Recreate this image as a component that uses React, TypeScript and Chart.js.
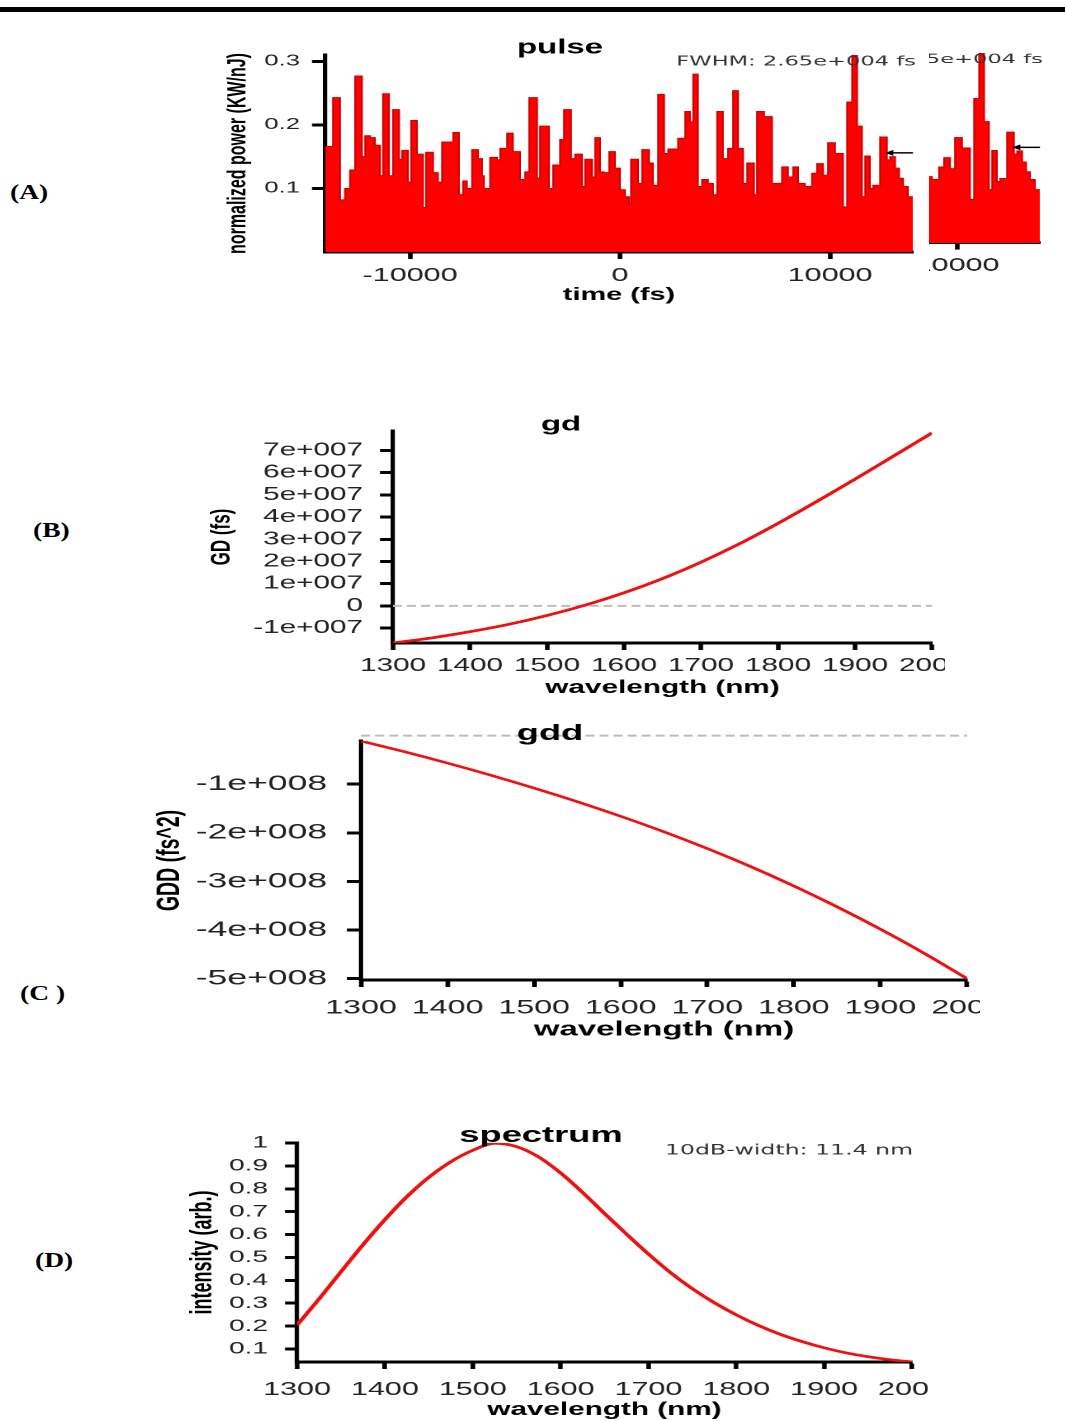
import React, { useEffect, useRef } from 'react';
import { Chart, registerables } from 'chart.js';

Chart.register(...registerables);

// horizontal stretch of the original figure
const S = 1.65;
const FONT = "'Liberation Sans', Arial, Helvetica, sans-serif";
const NOTE_FONT = "'DejaVu Sans', Verdana, sans-serif";
const RED = '#ee1111';
const TICK_COLOR = '#222';

// ---------------- (A) pulse ----------------
const PULSE_TIME_FS = [
  -14050, -13670, -13330, -13100, -12860, -12620, -12290, -12140, -11900, -11670,
  -11430, -11290, -11000, -10810, -10520, -10380, -10100, -9950, -9670, -9380,
  -9240, -8900, -8670, -8480, -7950, -7670, -7480, -7290, -7050, -6760,
  -6570, -6480, -6190, -5860, -5710, -5380, -5100, -4760, -4520, -4330,
  -3950, -3810, -3380, -3190, -2860, -2670, -2330, -2140, -1810, -1670,
  -1330, -1190, -950, -760, -520, -240, 0, 240, 430, 520,
  860, 1050, 1380, 1570, 1810, 2100, 2290, 2760, 3100, 3330,
  3480, 3710, 3900, 4190, 4430, 4620, 4900, 5140, 5380, 5620,
  5860, 6050, 6380, 6520, 6860, 7240, 7710, 8000, 8240, 8480,
  8810, 9140, 9380, 9670, 9900, 10240, 10620, 10810, 11050, 11290,
  11520, 11670, 11900, 12050, 12380, 12710, 12860, 13100, 13290, 13480,
  13710, 13950,
];
const PULSE_POWER = [
  0.166, 0.243, 0.082, 0.1, 0.129, 0.277, 0.15, 0.183, 0.18, 0.168,
  0.12, 0.249, 0.12, 0.224, 0.146, 0.16, 0.11, 0.207, 0.154, 0.07,
  0.157, 0.125, 0.11, 0.173, 0.188, 0.09, 0.112, 0.1, 0.161, 0.147,
  0.12, 0.1, 0.149, 0.145, 0.163, 0.187, 0.158, 0.114, 0.126, 0.243,
  0.116, 0.198, 0.1, 0.137, 0.177, 0.224, 0.147, 0.154, 0.103, 0.146,
  0.118, 0.18, 0.126, 0.125, 0.158, 0.132, 0.098, 0.087, 0.076, 0.146,
  0.108, 0.161, 0.14, 0.105, 0.248, 0.155, 0.162, 0.179, 0.221, 0.205,
  0.28, 0.103, 0.114, 0.108, 0.09, 0.221, 0.147, 0.163, 0.254, 0.163,
  0.108, 0.14, 0.09, 0.221, 0.213, 0.108, 0.134, 0.118, 0.134, 0.108,
  0.103, 0.124, 0.139, 0.121, 0.172, 0.155, 0.071, 0.236, 0.31, 0.198,
  0.087, 0.151, 0.1, 0.105, 0.181, 0.145, 0.15, 0.132, 0.116, 0.103,
  0.087, 0.087,
];
const PULSE_X_RANGE = [-14050, 13950];
const PULSE_Y_RANGE = [0, 0.31];
const PULSE_X_TICKS = [-10000, 0, 10000];
const PULSE_X_TICK_LABELS = ['-10000', '0', '10000'];
const PULSE_Y_TICKS = [0.1, 0.2, 0.3];
const PULSE_Y_TICK_LABELS = ['0.1', '0.2', '0.3'];
const FWHM_LABEL = 'FWHM: 2.65e+004 fs';
const FWHM_ARROW = { from: 13950, to: 12620, level: 0.156 };

// ---------------- (B) gd / (C) gdd ----------------
const WAVELENGTH_NM = [1300, 1350, 1400, 1450, 1500, 1550, 1600, 1650, 1700, 1750, 1800, 1850, 1900, 1950, 2000];
const GD_FS = [-1.67e7, -1.44e7, -1.16e7, -0.83e7, -0.43e7, 0.04e7, 0.59e7, 1.23e7, 1.97e7, 2.8e7, 3.72e7, 4.7e7, 5.71e7, 6.75e7, 7.79e7];
const GD_Y_RANGE = [-1.67e7, 7.88e7];
const GD_Y_TICKS = [-1e7, 0, 1e7, 2e7, 3e7, 4e7, 5e7, 6e7, 7e7];
const GD_Y_TICK_LABELS = ['-1e+007', '0', '1e+007', '2e+007', '3e+007', '4e+007', '5e+007', '6e+007', '7e+007'];

const GDD_FS2 = [-0.11e8, -0.33e8, -0.565e8, -0.815e8, -1.08e8, -1.36e8, -1.66e8, -1.98e8, -2.325e8, -2.695e8, -3.095e8, -3.525e8, -3.985e8, -4.475e8, -5.0e8];
const GDD_Y_RANGE = [-5.03e8, -0.11e8];
const GDD_Y_TICKS = [-5e8, -4e8, -3e8, -2e8, -1e8];
const GDD_Y_TICK_LABELS = ['-5e+008', '-4e+008', '-3e+008', '-2e+008', '-1e+008'];

// ---------------- (D) spectrum ----------------
const SPECTRUM_NM = [1300, 1325, 1350, 1375, 1400, 1425, 1450, 1475, 1500, 1525, 1550, 1575, 1600, 1625, 1650, 1675, 1700, 1725, 1750, 1775, 1800, 1825, 1850, 1875, 1900, 1925, 1950, 1975, 2000];
const SPECTRUM_INTENSITY = [0.204, 0.318, 0.437, 0.555, 0.665, 0.765, 0.85, 0.918, 0.968, 0.999, 0.984, 0.939, 0.869, 0.784, 0.692, 0.602, 0.515, 0.434, 0.363, 0.302, 0.249, 0.203, 0.164, 0.132, 0.105, 0.083, 0.066, 0.053, 0.043];
const SPECTRUM_Y_RANGE = [0.043, 1.0];
const SPECTRUM_Y_TICKS = [0.1, 0.2, 0.3, 0.4, 0.5, 0.6, 0.7, 0.8, 0.9, 1.0];
const SPECTRUM_Y_TICK_LABELS = ['0.1', '0.2', '0.3', '0.4', '0.5', '0.6', '0.7', '0.8', '0.9', '1'];
const SPECTRUM_LABEL = '10dB-width: 11.4 nm';

const WL_RANGE = [1300, 2000];
const WL_TICKS = [1300, 1400, 1500, 1600, 1700, 1800, 1900, 2000];
const WL_TICK_LABELS = ['1300', '1400', '1500', '1600', '1700', '1800', '1900', '2000'];

// ---------------- layout (page px) ----------------
type Layout = { L: number; T: number; areaL: number; areaR: number; areaT: number; areaB: number; xAxisH: number; padB: number };
type Clip = { x: number; y: number; w: number; h: number };

const PULSE_LAYOUT: Layout = { L: 200, T: 30, areaL: 325, areaR: 913, areaT: 55, areaB: 252, xAxisH: 60, padB: 5 };
const GD_LAYOUT: Layout = { L: 200, T: 400, areaL: 393, areaR: 932, areaT: 431, areaB: 643, xAxisH: 60, padB: 5 };
const GDD_LAYOUT: Layout = { L: 150, T: 712, areaL: 361, areaR: 967, areaT: 741, areaB: 980, xAxisH: 62, padB: 5 };
const SPEC_LAYOUT: Layout = { L: 180, T: 1112, areaL: 297, areaR: 912, areaT: 1143, areaB: 1362, xAxisH: 59, padB: 0 };

function dims(lay: Layout) {
  const Wy = (lay.areaL - lay.L) / S;
  const rightInt = (lay.areaR - lay.L) / S;
  const W = Math.ceil(rightInt + 40);
  const pr = W - rightInt;
  const pt = lay.areaT - lay.T;
  const H = Math.ceil(lay.areaB - lay.T + lay.xAxisH + lay.padB);
  const pb = H - (lay.areaB - lay.T + lay.xAxisH);
  return { Wy, W, pr, pt, H, pb };
}

type AxisSpec = {
  min: number; max: number; ticks: number[]; labels: string[];
  font: number; tickLenPage: number; labelPos: number;
  title: string; titleSize: number; titlePos: number;
};

function yScale(lay: Layout, a: AxisSpec) {
  const d = dims(lay);
  const tl = a.tickLenPage / S;
  const pad = Math.max(0, (lay.areaL - a.labelPos) / S - tl);
  const lh = a.titleSize * 1.2;
  return {
    type: 'linear', position: 'left', min: a.min, max: a.max,
    afterFit: (s: any) => { s.width = d.Wy; },
    afterBuildTicks: (s: any) => { s.ticks = a.ticks.map((v) => ({ value: v })); },
    ticks: {
      autoSkip: false, padding: pad, color: TICK_COLOR,
      font: { family: FONT, size: a.font },
      callback: (_v: any, i: number) => a.labels[i],
    },
    grid: { drawOnChartArea: false, drawTicks: true, tickLength: tl, tickWidth: 3, tickColor: '#000' },
    border: { display: true, color: '#000', width: 2.6 },
    title: {
      display: true, text: a.title, color: '#000',
      font: { family: FONT, size: a.titleSize, weight: 'bold' },
      padding: { top: Math.max(0, (a.titlePos - lay.L) / S - lh / 2), bottom: 0 },
    },
  };
}

function xScale(lay: Layout, a: AxisSpec) {
  const tl = a.tickLenPage;
  const pad = Math.max(0, a.labelPos - lay.areaB - tl - a.font * 0.6);
  const lh = a.titleSize * 1.2;
  return {
    type: 'linear', position: 'bottom', min: a.min, max: a.max,
    afterFit: (s: any) => { s.height = lay.xAxisH; },
    afterBuildTicks: (s: any) => { s.ticks = a.ticks.map((v) => ({ value: v })); },
    ticks: {
      autoSkip: false, maxRotation: 0, minRotation: 0, padding: pad, color: TICK_COLOR,
      font: { family: FONT, size: a.font },
      callback: (_v: any, i: number) => a.labels[i],
    },
    grid: { drawOnChartArea: false, drawTicks: true, tickLength: tl, tickWidth: 2.8, tickColor: '#000' },
    border: { display: true, color: '#000', width: 3 },
    title: {
      display: true, text: a.title, color: '#000',
      font: { family: FONT, size: a.titleSize, weight: 'bold' },
      padding: { top: 0, bottom: Math.max(0, lay.areaB + lay.xAxisH - a.titlePos - lh / 2) },
    },
  };
}

type TextItem = { text: string; x: number; y: number; size: number; bold?: boolean; align?: CanvasTextAlign; color?: string; family?: string };
type AnnotSpec = { texts: TextItem[]; zero?: number; arrow?: { from: number; to: number; level: number } };

function annotPlugin(lay: Layout, spec: AnnotSpec) {
  return {
    id: 'panelAnnot',
    beforeDatasetsDraw(chart: any) {
      if (spec.zero === undefined) return;
      const { ctx, chartArea } = chart;
      const y = chart.scales.y.getPixelForValue(spec.zero);
      ctx.save();
      ctx.strokeStyle = '#bdbdbd';
      ctx.lineWidth = 2;
      ctx.setLineDash([5.5, 3]);
      ctx.beginPath();
      ctx.moveTo(chartArea.left, y);
      ctx.lineTo(chartArea.right, y);
      ctx.stroke();
      ctx.restore();
    },
    afterDraw(chart: any) {
      const { ctx } = chart;
      if (spec.arrow) {
        const xs = chart.scales.x;
        const ys = chart.scales.y;
        const x1 = xs.getPixelForValue(spec.arrow.from);
        const x2 = xs.getPixelForValue(spec.arrow.to);
        const y = ys.getPixelForValue(spec.arrow.level);
        ctx.save();
        ctx.strokeStyle = '#000';
        ctx.fillStyle = '#000';
        ctx.lineWidth = 1.5;
        ctx.beginPath();
        ctx.moveTo(x1, y);
        ctx.lineTo(x2 + 3, y);
        ctx.stroke();
        ctx.beginPath();
        ctx.moveTo(x2, y);
        ctx.lineTo(x2 + 5, y - 3);
        ctx.lineTo(x2 + 5, y + 3);
        ctx.closePath();
        ctx.fill();
        ctx.restore();
      }
      for (const t of spec.texts) {
        ctx.save();
        ctx.font = `${t.bold ? 'bold ' : ''}${t.size}px ${t.family || FONT}`;
        ctx.fillStyle = t.color || '#000';
        ctx.textAlign = t.align || 'center';
        ctx.textBaseline = 'middle';
        ctx.fillText(t.text, (t.x - lay.L) / S, t.y - lay.T);
        ctx.restore();
      }
    },
  };
}

function baseOptions(lay: Layout) {
  const d = dims(lay);
  return {
    responsive: false,
    animation: false,
    devicePixelRatio: 2,
    events: [],
    layout: { padding: { left: 0, top: d.pt, right: d.pr, bottom: d.pb } },
    plugins: { legend: { display: false }, tooltip: { enabled: false }, title: { display: false } },
  };
}

function pulseConfig(lay: Layout) {
  return {
    type: 'line',
    data: {
      datasets: [{
        data: PULSE_TIME_FS.map((t, i) => ({ x: t, y: PULSE_POWER[i] })),
        stepped: 'before',
        fill: 'origin',
        backgroundColor: '#ff0000',
        borderColor: '#cc0000',
        borderWidth: 1,
        pointRadius: 0,
      }],
    },
    options: {
      ...baseOptions(lay),
      scales: {
        x: xScale(lay, {
          min: PULSE_X_RANGE[0], max: PULSE_X_RANGE[1], ticks: PULSE_X_TICKS, labels: PULSE_X_TICK_LABELS,
          font: 18.5, tickLenPage: 7, labelPos: 276, title: 'time (fs)', titleSize: 17.5, titlePos: 295,
        }),
        y: yScale(lay, {
          min: PULSE_Y_RANGE[0], max: PULSE_Y_RANGE[1], ticks: PULSE_Y_TICKS, labels: PULSE_Y_TICK_LABELS,
          font: 15.5, tickLenPage: 13, labelPos: 300, title: 'normalized power (KW/nJ)', titleSize: 16, titlePos: 238,
        }),
      },
    },
    plugins: [annotPlugin(lay, {
      texts: [
        { text: 'pulse', x: 560, y: 48, size: 20, bold: true },
        { text: FWHM_LABEL, x: 916, y: 62, size: 13.7, align: 'right', color: '#333', family: NOTE_FONT },
      ],
      arrow: FWHM_ARROW,
    })],
  };
}

function curveConfig(lay: Layout, xs: number[], ys: number[], yAxis: AxisSpec, xAxis: AxisSpec, annot: AnnotSpec, width: number) {
  return {
    type: 'line',
    data: {
      datasets: [{
        data: xs.map((x, i) => ({ x, y: ys[i] })),
        borderColor: RED,
        borderWidth: width,
        pointRadius: 0,
        fill: false,
        cubicInterpolationMode: 'monotone',
      }],
    },
    options: {
      ...baseOptions(lay),
      scales: { x: xScale(lay, xAxis), y: yScale(lay, yAxis) },
    },
    plugins: [annotPlugin(lay, annot)],
  };
}

function gdConfig(lay: Layout) {
  return curveConfig(lay, WAVELENGTH_NM, GD_FS,
    { min: GD_Y_RANGE[0], max: GD_Y_RANGE[1], ticks: GD_Y_TICKS, labels: GD_Y_TICK_LABELS, font: 18, tickLenPage: 13, labelPos: 363, title: 'GD (fs)', titleSize: 17, titlePos: 222 },
    { min: WL_RANGE[0], max: WL_RANGE[1], ticks: WL_TICKS, labels: WL_TICK_LABELS, font: 18, tickLenPage: 7, labelPos: 666, title: 'wavelength (nm)', titleSize: 18, titlePos: 688 },
    { texts: [{ text: 'gd', x: 561, y: 425, size: 20, bold: true }], zero: 0 },
    2.7);
}

function gddConfig(lay: Layout) {
  return curveConfig(lay, WAVELENGTH_NM, GDD_FS2,
    { min: GDD_Y_RANGE[0], max: GDD_Y_RANGE[1], ticks: GDD_Y_TICKS, labels: GDD_Y_TICK_LABELS, font: 21.5, tickLenPage: 14, labelPos: 327, title: 'GDD (fs^2)', titleSize: 19.5, titlePos: 170 },
    { min: WL_RANGE[0], max: WL_RANGE[1], ticks: WL_TICKS, labels: WL_TICK_LABELS, font: 19.5, tickLenPage: 7, labelPos: 1008, title: 'wavelength (nm)', titleSize: 20, titlePos: 1030 },
    { texts: [{ text: 'gdd', x: 550, y: 734, size: 22, bold: true }], zero: 0 },
    2.5);
}

function spectrumConfig(lay: Layout) {
  return curveConfig(lay, SPECTRUM_NM, SPECTRUM_INTENSITY,
    { min: SPECTRUM_Y_RANGE[0], max: SPECTRUM_Y_RANGE[1], ticks: SPECTRUM_Y_TICKS, labels: SPECTRUM_Y_TICK_LABELS, font: 17, tickLenPage: 12, labelPos: 268, title: 'intensity (arb.)', titleSize: 18, titlePos: 203 },
    { min: WL_RANGE[0], max: WL_RANGE[1], ticks: WL_TICKS, labels: WL_TICK_LABELS, font: 18.5, tickLenPage: 7, labelPos: 1390, title: 'wavelength (nm)', titleSize: 18, titlePos: 1410 },
    { texts: [
      { text: 'spectrum', x: 541, y: 1136, size: 22, bold: true },
      { text: SPECTRUM_LABEL, x: 913, y: 1151, size: 14.3, align: 'right', color: '#333', family: NOTE_FONT },
    ] },
    2.7);
}

function ChartPanel(props: { make: (lay: Layout) => any; lay: Layout; clip: Clip; placeL?: number; placeT?: number; sy?: number }) {
  const { make, lay, clip } = props;
  const ref = useRef<HTMLCanvasElement>(null);
  const d = dims(lay);
  const placeL = props.placeL ?? lay.L;
  const placeT = props.placeT ?? lay.T;
  const sy = props.sy ?? 1;
  useEffect(() => {
    const chart = new Chart(ref.current as HTMLCanvasElement, make(lay) as any);
    return () => chart.destroy();
  }, []);
  return (
    <div style={{ position: 'absolute', left: clip.x, top: clip.y, width: clip.w, height: clip.h, overflow: 'hidden' }}>
      <div style={{
        position: 'absolute', left: placeL - clip.x, top: placeT - clip.y, width: d.W, height: d.H,
        transform: `scale(${S}, ${sy})`, transformOrigin: '0 0',
      }}>
        <canvas ref={ref} width={d.W} height={d.H} style={{ display: 'block' }} />
      </div>
    </div>
  );
}

function PanelLabel({ text, x, y }: { text: string; x: number; y: number }) {
  return (
    <div style={{
      position: 'absolute', left: x, top: y - 13, height: 26, lineHeight: '26px',
      fontFamily: "'Liberation Serif', 'Times New Roman', serif", fontWeight: 'bold', fontSize: 22,
      transform: 'scaleX(1.25)', transformOrigin: '0 0', whiteSpace: 'pre', color: '#000',
    }}>{text}</div>
  );
}

export default function App() {
  return (
    <div style={{ position: 'absolute', left: 0, top: 0, width: 1065, height: 1421, background: '#fff', overflow: 'hidden' }}>
      <div style={{ position: 'absolute', left: 0, top: 7, width: 1065, height: 5, background: '#000' }} />
      <PanelLabel text="(A)" x={10} y={192} />
      <PanelLabel text="(B)" x={33} y={530} />
      <PanelLabel text="(C )" x={20} y={993} />
      <PanelLabel text="(D)" x={35} y={1260} />
      <ChartPanel make={pulseConfig} lay={PULSE_LAYOUT} clip={{ x: 200, y: 30, w: 720, h: 290 }} />
      <ChartPanel make={pulseConfig} lay={PULSE_LAYOUT} clip={{ x: 929, y: 28, w: 119, h: 262 }} placeL={327} placeT={29.2} sy={0.963} />
      <ChartPanel make={gdConfig} lay={GD_LAYOUT} clip={{ x: 200, y: 400, w: 745, h: 308 }} />
      <ChartPanel make={gddConfig} lay={GDD_LAYOUT} clip={{ x: 150, y: 712, w: 830, h: 332 }} />
      <ChartPanel make={spectrumConfig} lay={SPEC_LAYOUT} clip={{ x: 180, y: 1112, w: 748, h: 309 }} />
    </div>
  );
}
